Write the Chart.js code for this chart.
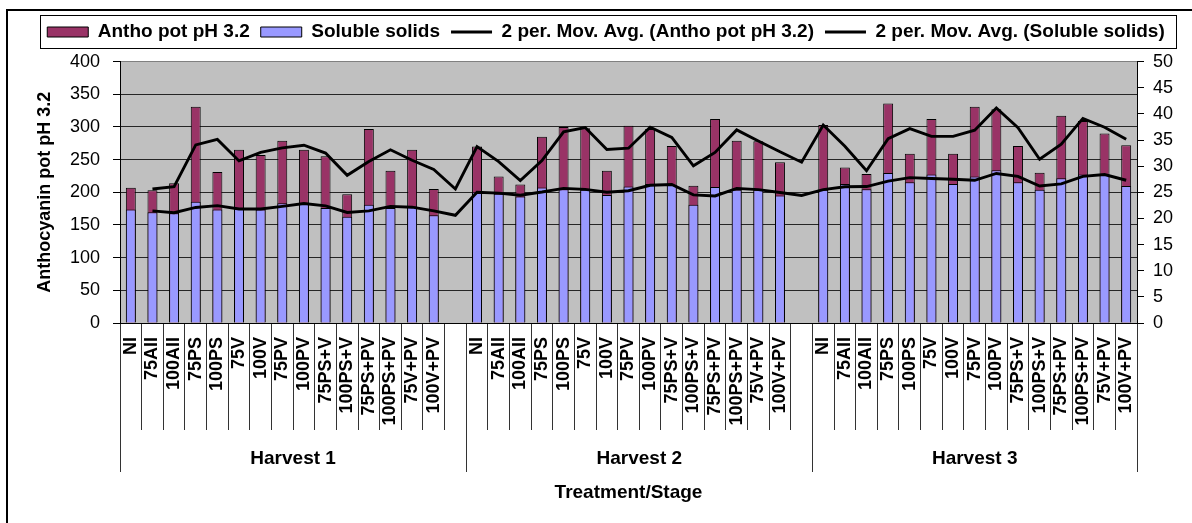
<!DOCTYPE html>
<html>
<head>
<meta charset="utf-8">
<title>Anthocyanin pot pH 3.2 / Soluble solids</title>
<script src="https://cdn.jsdelivr.net/npm/chart.js@4.4.1/dist/chart.umd.min.js"></script>
<style>
  html, body { margin: 0; padding: 0; background: #fff; overflow: hidden; }
  canvas { display: block; }
</style>
</head>
<body>
<canvas id="chart" width="1192" height="523"></canvas>
<script>
// --- Data ---
const treatments = ['NI', '75AII', '100AII', '75PS', '100PS', '75V', '100V', '75PV', '100PV',
    '75PS+V', '100PS+V', '75PS+PV', '100PS+PV', '75V+PV', '100V+PV'];
const harvests = ['Harvest 1', 'Harvest 2', 'Harvest 3'];

// Anthocyanin pot pH 3.2 (left axis)
const anthoH1 = [207, 203, 214, 331, 231, 265, 257, 279, 265, 255, 197, 297, 233, 265, 205];
const anthoH2 = [270, 224, 212, 285, 300, 298, 233, 302, 297, 271, 210, 312, 279, 278, 246];
const anthoH3 = [303, 238, 228, 336, 259, 312, 259, 331, 327, 271, 230, 317, 309, 290, 272];

// Soluble solids (right axis)
const solidsH1 = [21.7, 21.2, 21.0, 23.2, 21.7, 21.9, 21.7, 22.9, 22.8, 22.0, 20.3, 22.6, 22.0, 22.3, 20.6];
const solidsH2 = [25.0, 24.7, 24.2, 25.9, 25.6, 25.5, 24.5, 26.1, 26.6, 26.4, 22.6, 26.0, 25.5, 25.5, 24.4];
const solidsH3 = [25.5, 26.6, 25.6, 28.7, 26.9, 28.4, 26.6, 28.0, 29.2, 26.9, 25.5, 27.7, 28.4, 28.4, 26.2];

// 2 per. Mov. Avg. trendlines, one point per category (the blank columns included)
const maAntho = [null, 205, 208.5, 272.5, 281, 248, 261, 268, 272, 260, 226, 247, 265, 249, 235, 205,
    270, 247, 218, 248.5, 292.5, 299, 265.5, 267.5, 299.5, 284, 240.5, 261, 295.5, 278.5, 262, 246,
    303, 270.5, 233, 282, 297.5, 285.5, 285.5, 295, 329, 299, 250.5, 273.5, 313, 299.5, 281];
const maSolids = [null, 21.45, 21.1, 22.1, 22.45, 21.8, 21.8, 22.3, 22.85, 22.4, 21.15, 21.45, 22.3, 22.15, 21.45, 20.6,
    25.0, 24.85, 24.45, 25.05, 25.75, 25.55, 25.0, 25.3, 26.35, 26.5, 24.5, 24.3, 25.75, 25.5, 24.95, 24.4,
    25.5, 26.05, 26.1, 27.15, 27.8, 27.65, 27.5, 27.3, 28.6, 28.05, 26.2, 26.6, 28.05, 28.4, 27.3];

const FONT = "'Liberation Sans', Arial, sans-serif";

// one blank category between the harvests, like the original sheet
const labels = [...treatments, '', ...treatments, '', ...treatments];
const antho = [...anthoH1, null, ...anthoH2, null, ...anthoH3];
const solids = [...solidsH1, null, ...solidsH2, null, ...solidsH3];

// harvest row: edges and middle of every group, in category units
const n = treatments.length;
const groupEdges = [-0.5, n + 0.5, 2 * n + 1.5, 3 * n + 1.5];
const groupMids = harvests.map((h, i) => (groupEdges[i] + groupEdges[i + 1]) / 2);

// --- Plot background + frames ---
const frames = {
    id: 'frames',
    beforeDraw(chart) {
        const { ctx, chartArea: a } = chart;
        ctx.save();
        ctx.fillStyle = '#c0c0c0';
        ctx.fillRect(a.left, a.top, a.right - a.left, a.bottom - a.top);
        ctx.restore();
    },
    afterDraw(chart) {
        const ctx = chart.ctx;
        ctx.save();
        ctx.strokeStyle = '#000';
        ctx.lineWidth = 2;
        ctx.strokeRect(7, 10, chart.width + 20, chart.height + 20); // outer border (right/bottom are cut off)

        const hb = chart.legend.legendHitBoxes;
        if (hb && hb.length) {
            const first = hb[0], last = hb[hb.length - 1];
            const cy = first.top + first.height / 2;
            ctx.lineWidth = 1;
            ctx.strokeRect(Math.round(first.left - 7) + 0.5, Math.round(cy - 17) + 0.5,
                Math.round(last.left + last.width - first.left + 19), 33);
        }
        ctx.restore();
    }
};

new Chart(document.getElementById('chart'), {
    data: {
        labels: labels,
        datasets: [
            {
                type: 'bar',
                label: 'Antho pot pH 3.2',
                data: antho,
                xAxisID: 'x',
                yAxisID: 'y',
                backgroundColor: '#993366',
                borderColor: '#000',
                borderWidth: 1,
                grouped: false,
                categoryPercentage: 1,
                barPercentage: 0.46,
                pointStyle: 'rect',
                order: 3
            },
            {
                type: 'bar',
                label: 'Soluble solids',
                data: solids,
                xAxisID: 'x',
                yAxisID: 'y1',
                backgroundColor: '#9999ff',
                borderColor: '#000',
                borderWidth: 1,
                grouped: false,
                categoryPercentage: 1,
                barPercentage: 0.46,
                pointStyle: 'rect',
                order: 2
            },
            {
                type: 'line',
                label: '2 per. Mov. Avg. (Antho pot pH 3.2)',
                data: maAntho,
                xAxisID: 'x',
                yAxisID: 'y',
                borderColor: '#000',
                backgroundColor: '#000',
                borderWidth: 2.9,
                pointRadius: 0,
                pointStyle: 'line',
                tension: 0,
                order: 1
            },
            {
                type: 'line',
                label: '2 per. Mov. Avg. (Soluble solids)',
                data: maSolids,
                xAxisID: 'x',
                yAxisID: 'y1',
                borderColor: '#000',
                backgroundColor: '#000',
                borderWidth: 2.9,
                pointRadius: 0,
                pointStyle: 'line',
                tension: 0,
                order: 0
            }
        ]
    },
    options: {
        responsive: false,
        animation: false,
        devicePixelRatio: 1,
        layout: { padding: { left: 20, top: 11.5, right: 0, bottom: 10 } },
        plugins: {
            legend: {
                position: 'top',
                labels: {
                    usePointStyle: true,
                    pointStyleWidth: 41,
                    boxHeight: 10,
                    padding: 11,
                    color: '#000',
                    font: { family: FONT, size: 19, weight: 'bold' },
                    sort: (a, b) => a.datasetIndex - b.datasetIndex
                }
            },
            // empty spacer between legend and plot
            title: { display: true, text: '', weight: 500, padding: 0, font: { size: 8.4 } },
            tooltip: { enabled: false }
        },
        scales: {
            x: {
                type: 'category',
                position: 'bottom',
                weight: 0,
                offset: true,
                grid: { offset: true, drawOnChartArea: false, drawTicks: true, tickLength: 107, color: '#333' },
                border: { color: '#000', width: 1 },
                ticks: {
                    autoSkip: false, minRotation: 90, maxRotation: 90, padding: -93,
                    color: '#000', font: { family: FONT, size: 18, weight: 'bold' }
                },
                afterFit: (s) => { s.height = 107; }
            },
            xg: {
                type: 'linear',
                position: 'bottom',
                weight: 1,
                min: groupEdges[0],
                max: groupEdges[groupEdges.length - 1],
                afterBuildTicks: (s) => {
                    s.ticks = [...groupEdges, ...groupMids].sort((a, b) => a - b).map(v => ({ value: v }));
                },
                grid: {
                    drawOnChartArea: false, drawTicks: true, tickLength: 42,
                    color: (c) => (c.tick && groupEdges.includes(c.tick.value)) ? '#333' : 'rgba(0,0,0,0)'
                },
                border: { display: false },
                ticks: {
                    autoSkip: false, maxRotation: 0, padding: -24.4,
                    color: '#000', font: { family: FONT, size: 19, weight: 'bold' },
                    callback: (v) => {
                        const i = groupMids.indexOf(v);
                        return i >= 0 ? harvests[i] : '';
                    }
                },
                title: {
                    display: true, text: 'Treatment/Stage', color: '#000',
                    font: { family: FONT, size: 19, weight: 'bold' },
                    padding: { top: 0, bottom: 8.6 }
                },
                afterFit: (s) => { s.height = 83; }
            },
            y: {
                type: 'linear',
                position: 'left',
                min: 0,
                max: 400,
                ticks: { stepSize: 50, padding: 13, color: '#000', font: { family: FONT, size: 18 } },
                grid: {
                    drawOnChartArea: true, tickLength: 7, tickColor: '#000', lineWidth: 1,
                    color: (c) => (c.tick && c.tick.value === 400) ? '#808080' : '#262626'
                },
                border: { color: '#000', width: 1 },
                title: {
                    display: true, text: 'Anthocyanin pot pH 3.2', color: '#000',
                    font: { family: FONT, size: 18, weight: 'bold' },
                    padding: { top: 14.2, bottom: 0 }
                },
                afterFit: (s) => { s.width = 100; }
            },
            y1: {
                type: 'linear',
                position: 'right',
                min: 0,
                max: 50,
                ticks: { stepSize: 5, padding: 9, color: '#000', font: { family: FONT, size: 18 } },
                grid: { drawOnChartArea: false, tickLength: 7, tickColor: '#000' },
                border: { color: '#000', width: 1 },
                afterFit: (s) => { s.width = 55; }
            }
        }
    },
    plugins: [frames]
});
</script>
</body>
</html>
